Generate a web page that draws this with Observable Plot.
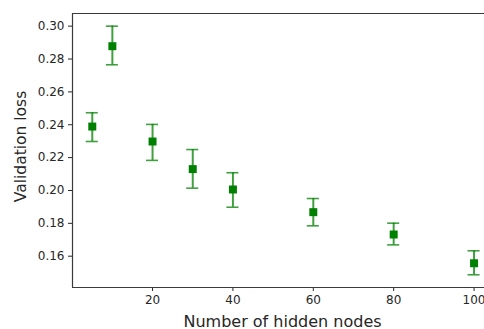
<!DOCTYPE html>
<html>
<head>
<meta charset="utf-8">
<script src="https://cdn.jsdelivr.net/npm/d3@7"></script>
<script src="https://cdn.jsdelivr.net/npm/@observablehq/plot@0.6"></script>
<style>
  html, body { margin: 0; padding: 0; background: #fff; }
  #chart svg { display: block; }
</style>
</head>
<body>
<div id="chart"></div>
<script>
const hiddenNodes = [5, 10, 20, 30, 40, 60, 80, 100];
const lossMean    = [0.2389, 0.2878, 0.2298, 0.2130, 0.2006, 0.1868, 0.1732, 0.1557];
const lossLow     = [0.2298, 0.2765, 0.2183, 0.2014, 0.1898, 0.1785, 0.1669, 0.1487];
const lossHigh    = [0.2473, 0.3000, 0.2402, 0.2249, 0.2108, 0.1951, 0.1801, 0.1633];
const xTicks = [20, 40, 60, 80, 100];
const yTicks = [0.16, 0.18, 0.20, 0.22, 0.24, 0.26, 0.28, 0.30];

const data = hiddenNodes.map((n, i) => ({x: n, y: lossMean[i], lo: lossLow[i], hi: lossHigh[i]}));

const xDomain = [0.08, 102.6];
const yDomain = [0.14095, 0.3077];
const cap = 1.5;
const barColor = "#008000";
const font = "DejaVu Sans, sans-serif";

const chart = Plot.plot({
  width: 484,
  height: 329,
  marginLeft: 72,
  marginRight: 0,
  marginTop: 13,
  marginBottom: 42,
  style: {fontFamily: font, fontSize: "12px", color: "#262626", background: "#fff"},
  x: {domain: xDomain, ticks: xTicks, tickSize: 4, tickPadding: 4, label: null},
  y: {domain: yDomain, ticks: yTicks, tickFormat: d3.format(".2f"), tickSize: 4, tickPadding: 4, label: null},
  marks: [
    Plot.ruleX([xDomain[0]], {stroke: "#3a3a3a", strokeWidth: 1.2}),
    Plot.ruleY([yDomain[0]], {stroke: "#3a3a3a", strokeWidth: 1.2}),
    Plot.ruleY([yDomain[1]], {stroke: "#3a3a3a", strokeWidth: 1.2}),
    Plot.ruleX(data, {x: "x", y1: "lo", y2: "hi", stroke: barColor, strokeOpacity: 0.75, strokeWidth: 2}),
    Plot.ruleY(data, {y: "lo", x1: d => d.x - cap, x2: d => d.x + cap, stroke: barColor, strokeOpacity: 0.75, strokeWidth: 1.6}),
    Plot.ruleY(data, {y: "hi", x1: d => d.x - cap, x2: d => d.x + cap, stroke: barColor, strokeOpacity: 0.75, strokeWidth: 1.6}),
    Plot.dot(data, {x: "x", y: "y", symbol: "square", r: 4.5, fill: barColor, stroke: "none"}),
    Plot.text(["Validation loss"], {frameAnchor: "left", textAnchor: "middle", lineAnchor: "middle", rotate: -90, dx: -51, dy: -4, fontSize: 15.5, fill: "#262626"}),
    Plot.text(["Number of hidden nodes"], {frameAnchor: "bottom", textAnchor: "middle", lineAnchor: "bottom", dx: 4, dy: 39, fontSize: 16, fill: "#262626"})
  ]
});
document.getElementById("chart").appendChild(chart);
</script>
</body>
</html>
